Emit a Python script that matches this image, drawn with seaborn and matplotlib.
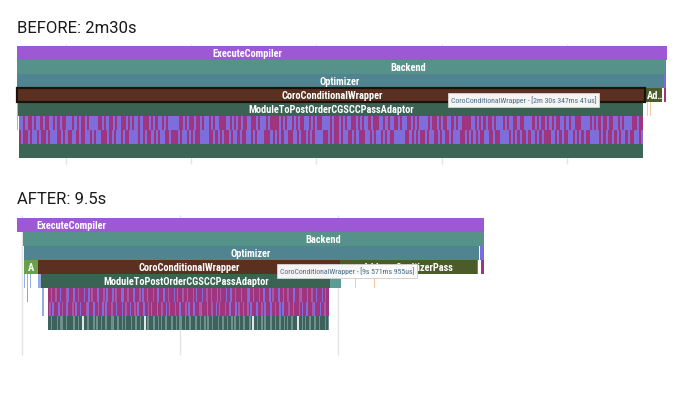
import itertools
import numpy as np
import pandas as pd
import matplotlib
matplotlib.use("Agg")
import matplotlib.pyplot as plt
from matplotlib import font_manager
import seaborn as sns

# ---------------- data: trace slices, seconds from trace start ----------------
before_title = "BEFORE: 2m30s"
before_names = ["ExecuteCompiler", "Backend", "Optimizer", "", "CoroConditionalWrapper",
                "AddressSanitizerPass", "", "ModuleToPostOrderCGSCCPassAdaptor", "", "",
                "", "", ""]
before_rows = [0, 1, 2, 2, 3, 3, 3, 4, 4, 5, 4, 4, 7]
before_start = [0.0, 0.0, 0.0, 154.8, 0.1, 150.45, 154.8, 0.35, -0.1, -0.1, 150.9, 151.6, 0.5]
before_end = [155.5, 155.4, 154.9, 155.4, 150.45, 154.4, 155.4, 149.9, 0.3, 0.3, 151.0, 151.7, 149.9]
before_kind = ["exec", "backend", "optimizer", "violet", "coro", "olive", "magenta", "module",
               "lavender", "lavender", "orange", "orange", "green"]
before_tooltip = "CoroConditionalWrapper - [2m 30s 347ms 41us]"

after_title = "AFTER: 9.5s"
after_names = ["ExecuteCompiler", "Backend", "Optimizer", "", "A", "CoroConditionalWrapper",
               "AddressSanitizerPass", "", "", "", "ModuleToPostOrderCGSCCPassAdaptor", "",
               "", "", "", "", "", "", "", ""]
after_rows = [0, 1, 2, 2, 3, 3, 3, 3, 3, 4, 4, 4, 4, 4, 4, 4, 5, 5, 6, 4]
after_start = [0.0, 0.19, 0.22, 14.69, 0.22, 0.67, 10.24, 14.58, 14.70, 0.67, 0.76, 9.92,
               0.23, 0.31, 0.40, 10.70, 0.31, 0.80, 0.80, 11.31]
after_end = [14.80, 14.80, 14.64, 14.80, 0.67, 10.24, 14.58, 14.62, 14.80, 0.76, 9.92, 10.27,
             0.26, 0.34, 0.43, 10.73, 0.34, 0.84, 0.84, 11.34]
after_kind = ["exec", "backend", "optimizer", "violet", "agreen", "coro", "olive", "purple",
              "magenta", "lightblue", "module", "teal", "lightblue", "lightblue", "lightblue",
              "orange", "gray", "lightblue", "lightblue", "orange"]
after_tooltip = "CoroConditionalWrapper - [9s 571ms 955us]"

# dense child rows: one char per equal time step  (m magenta, v violet, p pink, . base, l light, w white)
before_stripe_span = (0.5, 149.9)
before_stripes = {
    5: "vvmvmmvmvvmvmmvvmvmvmmvvvmvmvmmvmvvvvmmvmvmmvmvvmmvmvmvvmvmmmvmvmvvmvmvvvvvmmvmvmmvmmvmv"
       "vmvmvvmmmvvmvmvmvmmvvmmvmvvvmvmmmmvmvmvvmvmvmmvvmvmvmmvvvvmvmmvmvmvvmmvmvmvvmvmmmvvmvmvv"
       "mmvmvvmmvmvmvvvvmvmmvmvmmvvmvmvvmmmmvvmvmvmvmmvmvvvmvmvvmmvmmvvvvmvmvmmvmvmvmmvvmvmvvmmm"
       "vvvvmvmvmvmmvmmvvmvmvvvvmmvmm",
    6: "mvmmvmvvmvmmvmvvvmmvmvmmvvmvmmvvmvmvvmmmvmvmvvmvmmvvvvmvmvmmvmvmvvmmvmmmvmvvmvmvmmvvvvmm"
       "vmvmvmmvmvvmvmmvvmvmvvvmmmvmvmvmvvmmvvmvmmvmvmvvvvmmvmvmmvmvvmmvmvmmmvvmvmvvmvmvmmvvvvvm"
       "mvmvmvmmvmvvmmvmvmmvmvvvmmvmvmvmvmmvvmmvmmvvvvmvmvmvmmvmvvmvmvmmmvvmvmvmmvvmvmvmvmmvvvvm"
       "vmvmmvmvmvvmvmmvvmv",
}
after_stripe_span = (0.98, 9.89)
after_stripes = {
    5: "mmvmmpmmvmmmpvmmmvmmpmmmvmmvmpmmmvmmmpmvmmmvmpmmmvvmmpmmmvmmmpmvmmvmmmpmmvmmmvmmpmmmvmv"
       "mmmpmmvmmmpmvmmmvmmpmmvmmmvmpmmmvmmvmmpmmmvmmmpvmmvmmmpmmvmmmvmpmmmvmmvmmpmmmvmmmpvmmmvm"
       "mpmmvmmmvmpmm",
    6: "mpmvmmmvmpmmvmmmpmvmmvmmmpvmmmvmmpmmvmvmmmpmmvmmmvmpmmvmmpmvmmmvmmpmvmmmvmmpmmvmvmmmpmm"
       "vmmmpmvmmvmmmpvmmmvmmpmmvmvmmmpmmvmmmvmpmmvmmpmvmmmvmmpmvmmmvmmpmmvmvmmmpmmvmmmpmvmmvmmm"
       "pvmmmvmmpmm",
    7: "..l...l.ll..l....l..l..w..l...l.l..l..l...ll..l..l.l...l..l..l..w.l...l..l.l..l...l..l."
       "ll..l..l...l..l..l.l..l...l..l..l..l.l..l..l...l.w..l..l.l...l..l..l..l.l..l...w..l.l..l"
       "..l..l...l.l",
}

# ---------------- style ----------------
COLORS = {
    "exec": "#9d59d3", "backend": "#56928a", "optimizer": "#4f8490", "coro": "#5c3020",
    "module": "#3a6354", "green": "#3b6555", "olive": "#4b5b29", "agreen": "#69a04a",
    "violet": "#7b6be0", "magenta": "#a2337c", "purple": "#b050e0", "lavender": "#a9aee6",
    "lightblue": "#93aee6", "orange": "#f5c8a8", "teal": "#5d9c95", "gray": "#9aa8b8",
    "m": "#a0357f", "v": "#7e6edb", "p": "#a55aa6", ".": "#3d625d", "l": "#6f908c",
    "w": "#dfe8e7",
}

sns.set_theme(style="white")
plt.rcParams["font.family"] = ["Roboto", "DejaVu Sans"]

_installed = {f.name for f in font_manager.fontManager.ttflist}
NARROW = next((f for f in ["Roboto Condensed", "Liberation Sans Narrow"] if f in _installed), None)
if NARROW:
    LABEL = dict(family=[NARROW, "DejaVu Sans"], fontsize=7.5, fontweight="bold")
    TIP = dict(family=[NARROW, "DejaVu Sans"], fontsize=5.6)
else:
    LABEL = dict(family=["Roboto", "DejaVu Sans"], fontsize=6.3, fontweight="medium")
    TIP = dict(family=["Roboto", "DejaVu Sans"], fontsize=4.8)

W, H = 690, 394
fig = plt.figure(figsize=(W / 100, H / 100), dpi=100)


def px_axes(x0, y0, x1, y1):
    return fig.add_axes([x0 / W, 1 - y1 / H, (x1 - x0) / W, (y1 - y0) / H])


def draw_stripes(ax, span, patterns):
    t0, t1 = span
    for row, pat in patterns.items():
        step = (t1 - t0) / len(pat)
        base = "." if "." in pat else "m"
        ax.barh(row + 0.5, t1 - t0, left=t0, height=1, color=COLORS[base], lw=0, zorder=2)
        i = 0
        for ch, grp in itertools.groupby(pat):
            n = len(list(grp))
            if ch != base:
                ax.barh(row + 0.5, n * step, left=t0 + i * step, height=1,
                        color=COLORS[ch], lw=0, zorder=3)
            i += n


def draw_panel(ax, df, stripes, span, labels, grid, grid_y, tip, tip_at, border=None):
    ax.vlines(grid, grid_y[0], grid_y[1], color="#e4e4e4", lw=1, zorder=0)
    for _, r in df.iterrows():
        ax.barh(r.row + 0.5, r.end - r.start, left=r.start, height=1,
                color=COLORS[r.kind], lw=0, zorder=2)
    if border is not None:
        r = df[df.name == border].iloc[0]
        ax.barh(r.row + 0.5, r.end - r.start, left=r.start, height=1, color=COLORS[r.kind],
                edgecolor="#1c120d", lw=1.6, zorder=4)
    draw_stripes(ax, span, stripes)
    for name, (x, ha, shown) in labels.items():
        r = df[df.name == name].iloc[0]
        ax.text(x, r.row + 0.55, shown or name, ha=ha, va="center", color="white", zorder=6,
                clip_on=True, **LABEL)
    ax.text(tip_at[0], tip_at[1], tip, ha="left", va="center", color="#4a6d8c", zorder=8,
            bbox=dict(boxstyle="square,pad=0.35", fc="white", ec="#d0d0d0", lw=0.7, alpha=0.95),
            **TIP)
    ax.set_axis_off()


before = pd.DataFrame(dict(name=before_names, row=before_rows, start=before_start,
                           end=before_end, kind=before_kind))
after = pd.DataFrame(dict(name=after_names, row=after_rows, start=after_start,
                          end=after_end, kind=after_kind))

# BEFORE panel: 4.177 px per second, trace start at x=17px, row 0 top at y=46px, 14px rows
s_b = 4.177
ax_b = px_axes(0, 40, W, 172)
ax_b.set_xlim(-17 / s_b, (W - 17) / s_b)
ax_b.set_ylim((172 - 46) / 14, -(46 - 40) / 14)
draw_panel(ax_b, before, before_stripes, before_stripe_span,
           {"ExecuteCompiler": (55.1, "center", None), "Backend": (93.6, "center", None),
            "Optimizer": (77.3, "center", None), "CoroConditionalWrapper": (75.4, "center", None),
            "ModuleToPostOrderCGSCCPassAdaptor": (75.2, "center", None),
            "AddressSanitizerPass": (150.8, "left", "Ad…")},
           np.arange(11.7, 150, 30), (-0.15, 8.43), before_tooltip, (103.9, 3.86),
           border="CoroConditionalWrapper")

# AFTER panel: 31.55 px per second
s_a = 31.55
ax_a = px_axes(0, 210, W, 362)
ax_a.set_xlim(-17 / s_a, (W - 17) / s_a)
ax_a.set_ylim((362 - 218) / 14, -(218 - 210) / 14)
draw_panel(ax_a, after, after_stripes, after_stripe_span,
           {"ExecuteCompiler": (1.71, "center", None), "Backend": (9.70, "center", None),
            "Optimizer": (7.42, "center", None), "A": (0.44, "center", None),
            "CoroConditionalWrapper": (5.45, "center", None),
            "ModuleToPostOrderCGSCCPassAdaptor": (5.36, "center", None),
            "AddressSanitizerPass": (12.39, "center", None)},
           np.arange(0.16, 14.8, 5), (-0.22, 9.8), after_tooltip, (8.34, 3.78))

fig.text(17 / W, 1 - 33 / H, before_title, fontsize=12, color="#1a1a1a", va="baseline")
fig.text(17 / W, 1 - 204 / H, after_title, fontsize=12, color="#1a1a1a", va="baseline")

fig.savefig("out.png", dpi=100, facecolor="white")
